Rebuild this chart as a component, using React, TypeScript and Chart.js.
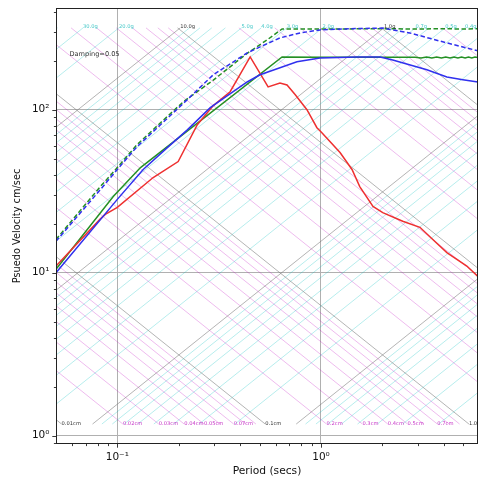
import React, { useEffect, useRef } from "react";
import { Chart, registerables } from "chart.js";

Chart.register(...registerables);

// ---- axes ----
const periodRange = [0.05, 5.9];
const psvRange = [0.89, 421];
const xTickValues = [0.1, 1];
const xTickLabels = ["10\u207B\u00B9", "10\u2070"];
const yTickValues = [1, 10, 100];
const yTickLabels = ["10\u2070", "10\u00B9", "10\u00B2"];
const xMinorTicks = [0.06, 0.07, 0.08, 0.09, 0.2, 0.3, 0.4, 0.5, 0.6, 0.7, 0.8, 0.9, 2, 3, 4, 5];
const yMinorTicks = [0.9, 2, 3, 4, 5, 6, 7, 8, 9, 20, 30, 40, 50, 60, 70, 80, 90, 200, 300, 400];

// ---- tripartite grid ----
const gravityCm = 981;
const gridPsvLow = 1.18;
const gridPsvHigh = 318;
const mantissas = [1, 2, 3, 4, 5, 6, 7, 8, 9];
const accelDecades = [0.001, 0.01, 0.1, 1, 10];
const dispDecades = [0.01, 0.1, 1, 10, 100];
const accelLabelValues = [30, 20, 10, 5, 4, 3, 2, 1, 0.7, 0.5, 0.4];
const accelLabelTexts = ["30.0g", "20.0g", "10.0g", "5.0g", "4.0g", "3.0g", "2.0g", "1.0g", "0.7g", "0.5g", "0.4g"];
const dispLabelValues = [0.01, 0.02, 0.03, 0.04, 0.05, 0.07, 0.1, 0.2, 0.3, 0.4, 0.5, 0.7, 1.0];
const dispLabelTexts = ["0.01cm", "0.02cm", "0.03cm", "0.04cm", "0.05cm", "0.07cm", "0.1cm", "0.2cm", "0.3cm", "0.4cm", "0.5cm", "0.7cm", "1.0cm"];
const dampingText = "Damping=0.05";
const dampingAt = [0.0582, 220];

// ---- spectra ----
const redPeriods = [0.05, 0.0826, 0.0873, 0.1, 0.15, 0.199, 0.247, 0.296, 0.358, 0.449, 0.55, 0.629, 0.681, 0.746, 0.853, 0.955, 1.01, 1.24, 1.42, 1.55, 1.8, 2.01, 2.52, 3.06, 3.54, 4.15, 5.2, 5.89];
const redPsv = [11.0, 21.4, 22.8, 25.2, 38.4, 48.1, 80.9, 106, 129, 211, 138, 146, 142, 124, 100, 77.6, 72.3, 54.6, 43.0, 33.8, 25.5, 23.4, 20.7, 19.0, 16.0, 13.3, 11.0, 9.5];

const bluePeriods = [0.05, 0.1, 0.134, 0.176, 0.22, 0.286, 0.434, 0.502, 0.629, 0.762, 0.989, 1.5, 1.95, 2.25, 3.31, 4.15, 4.97, 5.89];
const bluePsv = [10.0, 28.2, 43.0, 58.6, 75, 103, 148, 164, 181, 197, 208, 211, 211, 202, 176, 159, 153, 148];

const greenPeriods = [0.05, 0.0955, 0.13, 0.644, 1.0, 2.0, 2.9, 3.1, 3.3, 3.5, 3.7, 3.9, 4.1, 4.3, 4.5, 4.7, 4.9, 5.1, 5.3, 5.5, 5.7, 5.89];
const greenPsv = [10.5, 29.4, 44.2, 211, 210, 210, 210, 208, 210.5, 208, 210.5, 208, 210.5, 208, 210.5, 208, 210.5, 208, 210.5, 208, 210.5, 209];

const blueDashPeriods = [0.05, 0.0826, 0.1, 0.125, 0.163, 0.22, 0.296, 0.434, 0.502, 0.629, 0.789, 0.989, 1.5, 2.0, 2.73, 3.96, 5.89];
const blueDashPsv = [15.6, 32.4, 43.0, 59.4, 80.9, 115, 164, 223, 243, 276, 296, 309, 315, 317, 296, 261, 230];

const greenDashPeriods = [0.05, 0.0826, 0.1, 0.125, 0.163, 0.211, 0.296, 0.434, 0.543, 0.644, 1.0, 2.0, 3.0, 4.0, 5.0, 5.89];
const greenDashPsv = [16.0, 33.8, 44.2, 61.1, 83.2, 112, 152, 222, 268, 313, 313, 314, 313, 314, 313, 314];

// ---- styles ----
const FONT = "'DejaVu Sans', 'Liberation Sans', sans-serif";
const accelLineColor = "rgba(0,191,191,0.32)";
const dispLineColor = "rgba(191,0,191,0.3)";
const decadeLineColor = "rgba(120,120,120,0.62)";
const accelTextColor = "rgba(0,180,180,0.75)";
const dispTextColor = "rgba(185,0,185,0.8)";
const decadeTextColor = "#333";

const isDecade = (v: number) => Math.abs(Math.log10(v) - Math.round(Math.log10(v))) < 1e-9;
const pts = (xs: number[], ys: number[]) => xs.map((t, i) => ({ x: t, y: ys[i] }));

function buildGridDatasets() {
  const sets: any[] = [];
  accelDecades.forEach((dec) =>
    mantissas.forEach((m) => {
      const A = dec * m * gravityCm;
      sets.push({
        data: [
          { x: (2 * Math.PI * gridPsvLow) / A, y: gridPsvLow },
          { x: (2 * Math.PI * gridPsvHigh) / A, y: gridPsvHigh },
        ],
        borderColor: m === 1 ? decadeLineColor : accelLineColor,
        borderWidth: 0.9,
        pointRadius: 0,
        order: m === 1 ? 20 : 30,
      });
    })
  );
  dispDecades.forEach((dec) =>
    mantissas.forEach((m) => {
      const D = dec * m;
      sets.push({
        data: [
          { x: (2 * Math.PI * D) / gridPsvHigh, y: gridPsvHigh },
          { x: (2 * Math.PI * D) / gridPsvLow, y: gridPsvLow },
        ],
        borderColor: m === 1 ? decadeLineColor : dispLineColor,
        borderWidth: 0.9,
        pointRadius: 0,
        order: m === 1 ? 20 : 30,
      });
    })
  );
  return sets;
}

function curve(xs: number[], ys: number[], color: string, dashed: boolean, order: number) {
  return {
    data: pts(xs, ys),
    borderColor: color,
    borderWidth: 1.5,
    borderDash: dashed ? [4.5, 2.5] : [],
    pointRadius: 0,
    tension: 0,
    order,
  };
}

const overlayPlugin = {
  id: "tripartiteOverlay",
  afterDatasetsDraw(chart: any) {
    const { ctx, chartArea: a } = chart;
    const xs = chart.scales.x;
    const ys = chart.scales.y;
    ctx.save();
    ctx.beginPath();
    ctx.rect(a.left, a.top, a.right - a.left, a.bottom - a.top);
    ctx.clip();
    ctx.textAlign = "left";
    ctx.textBaseline = "middle";
    ctx.font = `5.2px ${FONT}`;
    accelLabelValues.forEach((g, i) => {
      const T = (2 * Math.PI * gridPsvHigh) / (gravityCm * g);
      ctx.fillStyle = isDecade(g) ? decadeTextColor : accelTextColor;
      ctx.fillText(accelLabelTexts[i], xs.getPixelForValue(T), ys.getPixelForValue(gridPsvHigh) - 1);
    });
    dispLabelValues.forEach((d, i) => {
      const T = (2 * Math.PI * d) / gridPsvLow;
      ctx.fillStyle = isDecade(d) ? decadeTextColor : dispTextColor;
      ctx.fillText(dispLabelTexts[i], xs.getPixelForValue(T), ys.getPixelForValue(gridPsvLow));
    });
    ctx.font = `6.6px ${FONT}`;
    ctx.fillStyle = "#333";
    ctx.fillText(dampingText, xs.getPixelForValue(dampingAt[0]), ys.getPixelForValue(dampingAt[1]));
    ctx.restore();
  },
  afterDraw(chart: any) {
    const { ctx, chartArea: a } = chart;
    const xs = chart.scales.x;
    const ys = chart.scales.y;
    ctx.save();
    ctx.strokeStyle = "#222";
    ctx.lineWidth = 0.9;
    const tick = (x1: number, y1: number, x2: number, y2: number) => {
      ctx.beginPath();
      ctx.moveTo(x1, y1);
      ctx.lineTo(x2, y2);
      ctx.stroke();
    };
    xTickValues.forEach((v) => { const p = Math.round(xs.getPixelForValue(v)) + 0.5; tick(p, a.bottom, p, a.bottom + 3.7); });
    xMinorTicks.forEach((v) => { const p = Math.round(xs.getPixelForValue(v)) + 0.5; tick(p, a.bottom, p, a.bottom + 2.1); });
    yTickValues.forEach((v) => { const p = Math.round(ys.getPixelForValue(v)) + 0.5; tick(a.left - 3.7, p, a.left, p); });
    yMinorTicks.forEach((v) => { const p = Math.round(ys.getPixelForValue(v)) + 0.5; tick(a.left - 2.1, p, a.left, p); });
    ctx.lineWidth = 1;
    ctx.strokeRect(a.left + 0.5, a.top + 0.5, a.right - a.left - 1, a.bottom - a.top - 1);
    ctx.restore();
  },
};

export default function App() {
  const ref = useRef<HTMLCanvasElement | null>(null);
  useEffect(() => {
    if (!ref.current) return;
    const datasets = [
      curve(redPeriods, redPsv, "#ee3030", false, 3),
      curve(greenPeriods, greenPsv, "#249024", false, 4),
      curve(bluePeriods, bluePsv, "#3030ee", false, 2),
      curve(blueDashPeriods, blueDashPsv, "#3030ee", true, 5),
      curve(greenDashPeriods, greenDashPsv, "#249024", true, 6),
      ...buildGridDatasets(),
    ];
    const chart = new Chart(ref.current, {
      type: "line",
      data: { datasets },
      plugins: [overlayPlugin],
      options: {
        animation: false,
        responsive: false,
        devicePixelRatio: 1,
        events: [],
        layout: { padding: { top: 8, right: 2, left: 0, bottom: 0 } },
        plugins: { legend: { display: false }, tooltip: { enabled: false } },
        scales: {
          x: {
            type: "logarithmic",
            min: periodRange[0],
            max: periodRange[1],
            afterBuildTicks: (s: any) => { s.ticks = xTickValues.map((v) => ({ value: v })); },
            afterFit: (s: any) => { s.height = 37; s.paddingLeft = 0; s.paddingRight = 0; s.paddingTop = 0; s.paddingBottom = 0; },
            ticks: {
              callback: (_v: any, i: number) => xTickLabels[i],
              font: { family: FONT, size: 10.5 },
              color: "#111",
              padding: 7,
              maxRotation: 0,
              minRotation: 0,
              autoSkip: false,
            },
            grid: { color: "#b0b0b0", lineWidth: 1, drawTicks: false },
            border: { display: false },
            title: { display: true, text: "Period (secs)", font: { family: FONT, size: 10.7 }, color: "#111", padding: { top: 0, bottom: 3.6 } },
          },
          y: {
            type: "logarithmic",
            min: psvRange[0],
            max: psvRange[1],
            afterBuildTicks: (s: any) => { s.ticks = yTickValues.map((v) => ({ value: v })); },
            afterFit: (s: any) => { s.width = 56; s.paddingLeft = 0; s.paddingRight = 0; s.paddingTop = 0; s.paddingBottom = 0; },
            ticks: {
              callback: (_v: any, i: number) => yTickLabels[i],
              font: { family: FONT, size: 10.5 },
              color: "#111",
              padding: 6.5,
              autoSkip: false,
            },
            grid: { color: "#b0b0b0", lineWidth: 1, drawTicks: false },
            border: { display: false },
            title: { display: true, text: "Psuedo Velocity cm/sec", font: { family: FONT, size: 9.8 }, color: "#111", padding: { top: 11.1, bottom: 0 } },
          },
        },
      } as any,
    });
    return () => chart.destroy();
  }, []);
  return (
    <div style={{ position: "fixed", left: 0, top: 0, width: 480, height: 481, background: "#fff" }}>
      <canvas ref={ref} width={480} height={481} style={{ display: "block", width: 480, height: 481 }} />
    </div>
  );
}
